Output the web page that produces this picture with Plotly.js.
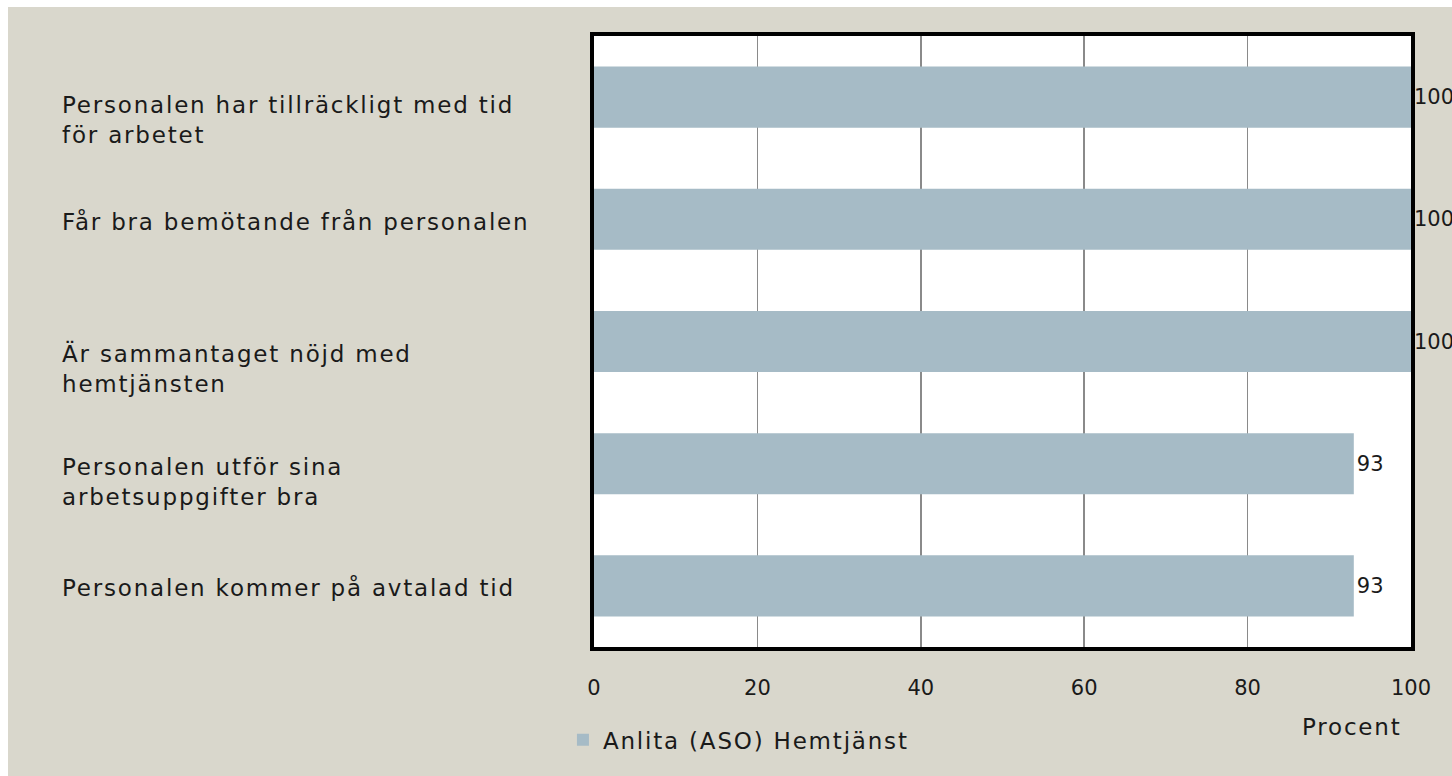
<!DOCTYPE html>
<html>
<head>
<meta charset="utf-8">
<script src="https://cdn.plot.ly/plotly-3.0.1.min.js"></script>
<style>
  html, body { margin: 0; padding: 0; background: #ffffff; }
  #chart { position: absolute; left: 8px; top: 7px; width: 1444px; height: 769px; }
  .annotation-text, .legendtext { letter-spacing: 1.8px; }
</style>
</head>
<body>
<div id="chart"></div>
<script>
// ---- Data ----
const categories = [
  "Personalen har tillräckligt med tid<br>för arbetet",
  "Får bra bemötande från personalen",
  "Är sammantaget nöjd med<br>hemtjänsten",
  "Personalen utför sina<br>arbetsuppgifter bra",
  "Personalen kommer på avtalad tid"
];
const values = [100, 100, 100, 93, 93];
const seriesName = "Anlita (ASO) Hemtjänst";
const xTickValues = [0, 20, 40, 60, 80, 100];
const xTickLabels = ["0", "20", "40", "60", "80", "100"];
const xAxisTitle = "Procent";

// ---- Styling / layout ----
const FONT = "DejaVu Sans, Verdana, sans-serif";
const labelYShift = [-23, -2, -27, -18, -2];

const trace = {
  type: "bar",
  orientation: "h",
  y: categories,
  x: values,
  name: seriesName,
  width: 0.5,
  marker: { color: "#a6bbc6" },
  text: values.map(String),
  textposition: "outside",
  cliponaxis: false,
  textfont: { family: FONT, size: 21, color: "#1a1a1a" },
  hoverinfo: "skip"
};

const annotations = categories.map((c, i) => ({
  xref: "paper", yref: "y",
  x: -0.654, y: c,
  xanchor: "left", yanchor: "middle",
  align: "left",
  text: c,
  showarrow: false,
  yshift: labelYShift[i],
  font: { family: FONT, size: 23, color: "#1a1a1a" }
}));
annotations.push({
  xref: "paper", yref: "paper",
  x: 0.927, y: -0.131,
  xanchor: "center", yanchor: "middle",
  text: xAxisTitle,
  showarrow: false,
  font: { family: FONT, size: 23, color: "#1a1a1a" }
});

const layout = {
  width: 1444,
  height: 769,
  margin: { l: 586, r: 41, t: 29, b: 129, pad: 0, autoexpand: false },
  paper_bgcolor: "#d9d7cc",
  plot_bgcolor: "#ffffff",
  font: { family: FONT, size: 21, color: "#1a1a1a" },
  showlegend: true,
  legend: {
    orientation: "h",
    x: -0.038, xanchor: "left",
    y: -0.152, yanchor: "middle",
    bgcolor: "rgba(0,0,0,0)",
    font: { family: FONT, size: 23, color: "#1a1a1a" }
  },
  xaxis: {
    range: [0, 100],
    tickvals: xTickValues,
    ticktext: xTickLabels,
    showgrid: true,
    gridcolor: "#8a8a8a",
    gridwidth: 1.5,
    zeroline: false,
    showline: true,
    linecolor: "#000000",
    linewidth: 4,
    mirror: true,
    ticks: "",
    ticklabelstandoff: 19,
    tickfont: { family: FONT, size: 21, color: "#1a1a1a" },
    fixedrange: true
  },
  yaxis: {
    type: "category",
    autorange: "reversed",
    showticklabels: false,
    showgrid: false,
    zeroline: false,
    showline: true,
    linecolor: "#000000",
    linewidth: 4,
    mirror: true,
    ticks: "",
    fixedrange: true
  },
  annotations: annotations,
  bargap: 0.5
};

Plotly.newPlot("chart", [trace], layout, { displayModeBar: false, staticPlot: true });
</script>
</body>
</html>
